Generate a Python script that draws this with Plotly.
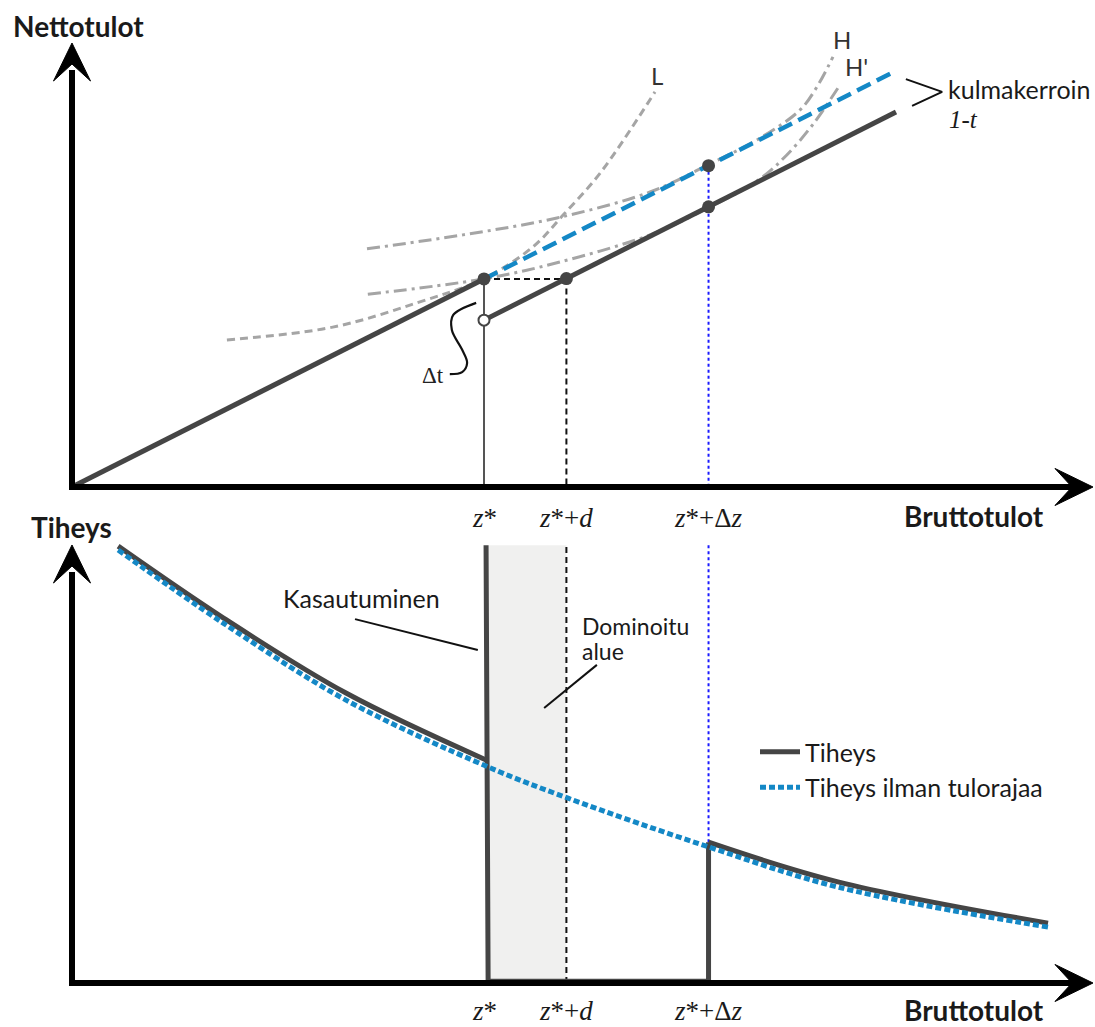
import plotly.graph_objects as go

W, H = 1095, 1027

# ---------------- data ----------------
z_star = 100.0          # notch point z*
d_width = 20.0          # width of dominated region d
delta_z = 54.5          # marginal buncher response Δz

# top panel: budget lines (gross -> net)
budget_before_z = [0.0, 100.0]
budget_before_net = [0.0, 50.5]
budget_after_z = [100.0, 200.0]
budget_after_net = [40.5, 91.0]
budget_free_z = [100.0, 200.0]
budget_free_net = [50.5, 101.0]

dots_z = [100.0, 120.0, 154.5, 154.5]
dots_net = [50.5, 50.6, 78.0, 68.0]
open_dot_z = [100.0]
open_dot_net = [40.5]

# indifference curves
L_z = [37.6, 63.3, 83.7, 99.8, 111.9, 119.2, 128.2, 141.5]
L_net = [35.7, 38.8, 44.7, 50.5, 58.3, 66.0, 76.2, 95.9]
H_z = [71.6, 94.9, 117.7, 140.3, 154.4, 167.0, 176.7, 180.8, 184.7]
H_net = [57.8, 61.2, 65.3, 71.6, 78.2, 84.7, 91.5, 97.1, 104.4]
Hp_z = [71.8, 99.8, 118.4, 140.3, 154.4, 167.0, 173.5, 179.9, 186.4]
Hp_net = [46.8, 50.5, 54.6, 61.2, 67.7, 74.8, 80.6, 88.1, 97.6]

# bottom panel: densities
dens_free_z = [11.2, 36.7, 66.5, 101.0, 120.4, 154.6, 185.9, 236.9]
dens_free = [98.4, 81.8, 64.3, 49.1, 42.0, 30.9, 21.8, 12.7]
dens_left_z = [11.2, 36.7, 66.5, 100.5]
dens_left = [99.3, 83.0, 65.9, 50.7]
dens_gap_z = [100.5, 101.0, 154.5, 154.5]
dens_gap = [99.5, 0.4, 0.4, 32.0]
dens_right_z = [154.5, 185.9, 236.9]
dens_right = [32.0, 23.0, 13.6]

# annotation helper curves (data units)
dt_brace_z = [98.1, 92.5, 92.2, 94.7, 95.9, 94.7, 91.7]
dt_brace_net = [44.7, 41.7, 38.1, 33.3, 30.1, 27.9, 27.4]
slope_bracket_z = [202.4, 211.2, 203.9]
slope_bracket_net = [99.0, 95.9, 92.5]
kas_leader_z = [68.7, 98.5]
kas_leader_d = [82.7, 75.7]
dom_leader_z = [127.4, 114.6]
dom_leader_d = [72.3, 62.5]

tick_labels = ["<i>z</i>*", "<i>z</i>*+<i>d</i>", "<i>z</i>*+Δ<i>z</i>"]
tick_pos = [z_star, z_star + d_width, z_star + delta_z]

# ---------------- geometry ----------------
XU = 4.12      # px per gross unit
X0 = 72        # px of origin
YT0 = 487      # px of top x-axis
YB0 = 983      # px of bottom x-axis
YBU = 4.4      # px per density unit
SPLIT = 505

def pxx(x):
    return x / W

def pyy(y):
    return 1 - y / H

DARK = "#454545"
BLUE = "#1488c6"
GREY = "#a5a5a5"
TXT = "#1a1a1a"
FONT = "Lato"
SERIF = "Liberation Serif"

fig = go.Figure()

def line(x, y, axis, color, width, dash="solid", shape="linear", name=None, legend=False, group=None):
    fig.add_trace(go.Scatter(
        x=x, y=y, yaxis=axis, mode="lines", name=name, showlegend=legend,
        legendgroup=group,
        line=dict(color=color, width=width, dash=dash, shape=shape, smoothing=1.0),
        hoverinfo="skip"))

# top panel
line(L_z, L_net, "y", GREY, 3, "8px,5px", "spline")
line(H_z, H_net, "y", GREY, 3, "13px,5px,3px,5px", "spline")
line(Hp_z, Hp_net, "y", GREY, 3, "13px,5px,3px,5px", "spline")
# reference lines
line([z_star, z_star], [budget_before_net[1], 0], "y", "#555555", 2)
line([z_star, z_star + d_width], [budget_before_net[1], budget_before_net[1]], "y", "#111111", 2, "6px,4px")
line([z_star + d_width, z_star + d_width], [dots_net[1], 0], "y", "#111111", 2, "6px,4px")
line([z_star + delta_z, z_star + delta_z], [dots_net[2], 0], "y", "#1a1aff", 2, "dot")
line(budget_before_z, budget_before_net, "y", DARK, 5)
line(budget_after_z, budget_after_net, "y", DARK, 5)
line(budget_free_z, budget_free_net, "y", BLUE, 4.5, "15px,7px")
fig.add_trace(go.Scatter(x=dots_z, y=dots_net, yaxis="y", mode="markers", showlegend=False,
                         marker=dict(color=DARK, size=13, line=dict(width=0)), hoverinfo="skip"))
fig.add_trace(go.Scatter(x=open_dot_z, y=open_dot_net, yaxis="y", mode="markers", showlegend=False,
                         marker=dict(color="white", size=11, line=dict(width=2, color=DARK)), hoverinfo="skip"))
line(dt_brace_z, dt_brace_net, "y", "#111111", 2.2, shape="spline")
line(slope_bracket_z, slope_bracket_net, "y", "#111111", 2)

# bottom panel
line([z_star + d_width, z_star + d_width], [0, 99.5], "y2", "#111111", 2, "6px,4px")
line([z_star + delta_z, z_star + delta_z], [dens_right[0], 99.5], "y2", "#1a1aff", 2, "dot")
line(dens_left_z, dens_left, "y2", DARK, 5, shape="spline", name="Tiheys", legend=True, group="a")
line(dens_gap_z, dens_gap, "y2", DARK, 5)
line(dens_right_z, dens_right, "y2", DARK, 5, shape="spline")
line(dens_free_z, dens_free, "y2", BLUE, 5, "6px,3px", "spline", name="Tiheys ilman tulorajaa", legend=True, group="b")
line(kas_leader_z, kas_leader_d, "y2", "#111111", 2)
line(dom_leader_z, dom_leader_d, "y2", "#111111", 2)

shapes = []
# dominated region
shapes.append(dict(type="rect", xref="x", yref="y2", x0=dens_gap_z[1], x1=z_star + d_width,
                   y0=0, y1=dens_gap[0], fillcolor="#f0f0ef", line=dict(width=0), layer="below"))

# axes with arrows (paper coords)
def vline_axis(x, y0, y1):
    shapes.append(dict(type="line", xref="paper", yref="paper", x0=pxx(x), x1=pxx(x),
                       y0=pyy(y0), y1=pyy(y1), line=dict(color="black", width=6)))

def hline_axis(y, x0, x1):
    shapes.append(dict(type="line", xref="paper", yref="paper", x0=pxx(x0), x1=pxx(x1),
                       y0=pyy(y), y1=pyy(y), line=dict(color="black", width=6)))

def arrow_up(x, tip):
    pts = [(x, tip), (x + 18.5, tip + 38), (x, tip + 21), (x - 18.5, tip + 38)]
    path = "M" + " L".join(f"{pxx(a):.5f},{pyy(b):.5f}" for a, b in pts) + " Z"
    shapes.append(dict(type="path", xref="paper", yref="paper", path=path,
                       fillcolor="black", line=dict(color="black", width=1)))

def arrow_right(y, tip):
    pts = [(tip, y), (tip - 38, y - 18.5), (tip - 21, y), (tip - 38, y + 18.5)]
    path = "M" + " L".join(f"{pxx(a):.5f},{pyy(b):.5f}" for a, b in pts) + " Z"
    shapes.append(dict(type="path", xref="paper", yref="paper", path=path,
                       fillcolor="black", line=dict(color="black", width=1)))

vline_axis(X0, YT0 + 3, 70)
hline_axis(YT0, X0 - 3, 1075)
arrow_up(X0, 43)
arrow_right(YT0, 1093)
vline_axis(X0, YB0 + 3, 572)
hline_axis(YB0, X0 - 3, 1075)
arrow_up(X0, 545)
arrow_right(YB0, 1093)

ann = []

def text(t, x, y, size=22, font=FONT, color=TXT, xanchor="center", bold=False, bg=None):
    if bold:
        t = "<b>" + t + "</b>"
    a = dict(text=t, xref="paper", yref="paper", x=pxx(x), y=pyy(y), showarrow=False,
             xanchor=xanchor, yanchor="middle", font=dict(family=font, size=size, color=color))
    if bg:
        a["bgcolor"] = bg
    ann.append(a)

text("Nettotulot", 78, 26, 28, bold=True)
text("Tiheys", 71, 527, 28, bold=True)
text("Bruttotulot", 974, 516, 28, bold=True)
text("Bruttotulot", 974, 1010, 28, bold=True)
for lab, pos in zip(tick_labels, tick_pos):
    for yy in (518, 1011):
        ann.append(dict(text=lab, xref="x", yref="paper", x=pos, y=pyy(yy), showarrow=False,
                        xanchor="center", yanchor="middle",
                        font=dict(family=SERIF, size=27, color=TXT)))
text("L", 657, 75, 24, color="#333333")
text("H", 842, 40, 24, color="#333333")
text("H'", 856, 67, 24, color="#333333")
text("kulmakerroin", 946, 89, 25, xanchor="left")
text("<i>1-t</i>", 947, 119, 25, font=SERIF, xanchor="left")
text("Δt", 433, 376, 23, font=SERIF, color="#222222")
text("Kasautuminen", 361, 598, 25)
text("Dominoitu", 580, 626, 23, xanchor="left")
text("alue", 580, 651, 23, xanchor="left")

fig.update_layout(
    width=W, height=H,
    margin=dict(l=0, r=0, t=0, b=0),
    paper_bgcolor="white", plot_bgcolor="rgba(0,0,0,0)",
    xaxis=dict(range=[-X0 / XU, (W - X0) / XU], visible=False, fixedrange=True),
    yaxis=dict(domain=[1 - SPLIT / H, 1], range=[(YT0 - SPLIT) / XU, YT0 / XU],
               visible=False, fixedrange=True),
    yaxis2=dict(domain=[0, 1 - SPLIT / H], range=[(YB0 - H) / YBU, (YB0 - SPLIT) / YBU],
                visible=False, fixedrange=True, anchor="x"),
    shapes=shapes,
    annotations=ann,
    showlegend=True,
    legend=dict(x=pxx(755), y=pyy(729), xanchor="left", yanchor="top",
                bgcolor="rgba(0,0,0,0)", font=dict(family=FONT, size=25, color=TXT),
                tracegroupgap=0, itemwidth=40),
)

fig.write_html("out.html", config={"displayModeBar": False},
               post_script="document.body.style.margin='0px';")
